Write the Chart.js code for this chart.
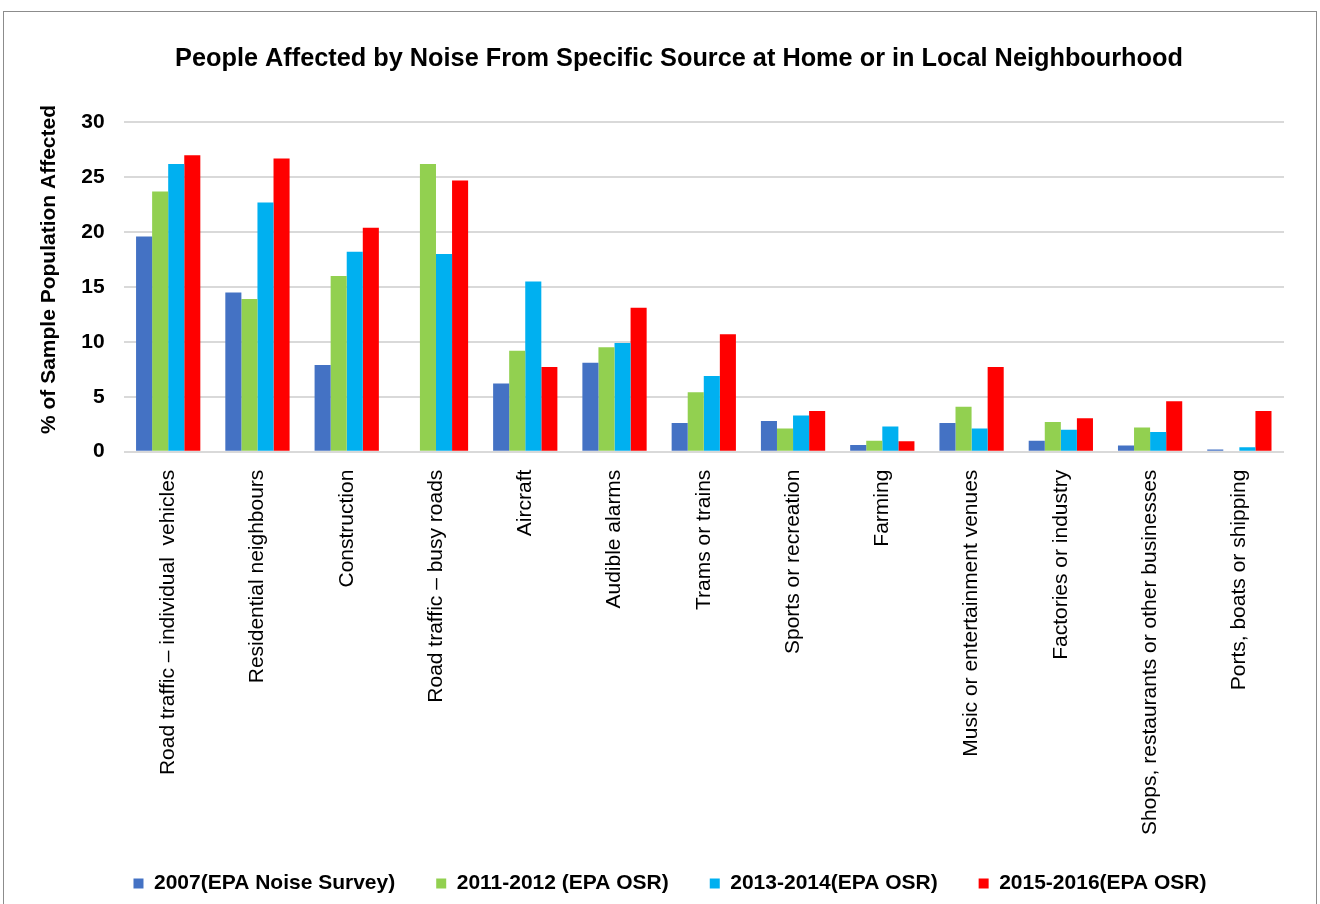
<!DOCTYPE html>
<html>
<head>
<meta charset="utf-8">
<script src="https://cdn.jsdelivr.net/npm/chart.js@4/dist/chart.umd.min.js"></script>
<style>
  html, body { margin: 0; padding: 0; background: #fff; }
  #frame { position: absolute; left: 3px; top: 11px; width: 1314px; height: 900px; border: 1px solid #8c8c8c; border-bottom: none; box-sizing: border-box; }
  #wrap { position: absolute; left: 0; top: 0; width: 1320px; height: 904px; }
</style>
</head>
<body>
<div id="frame"></div>
<div id="wrap"><canvas id="c" width="1320" height="904"></canvas></div>
<script>
const categories = [
  "Road traffic \u2013 individual  vehicles",
  "Residential neighbours",
  "Construction",
  "Road traffic \u2013 busy roads",
  "Aircraft",
  "Audible alarms",
  "Trams or trains",
  "Sports or recreation",
  "Farming",
  "Music or entertainment venues",
  "Factories or industry",
  "Shops, restaurants or other businesses",
  "Ports, boats or shipping"
];
const seriesNames = ["2007(EPA Noise Survey)", "2011-2012 (EPA OSR)", "2013-2014(EPA OSR)", "2015-2016(EPA OSR)"];
const s2007 = [19.6, 14.5, 7.9, null, 6.2, 8.1, 2.6, 2.8, 0.6, 2.6, 1.0, 0.55, 0.2];
const s2011 = [23.7, 13.9, 16.0, 26.2, 9.2, 9.5, 5.4, 2.1, 1.0, 4.1, 2.7, 2.2, null];
const s2013 = [26.2, 22.7, 18.2, 18.0, 15.5, 9.9, 6.9, 3.3, 2.3, 2.1, 2.0, 1.8, 0.4];
const s2015 = [27.0, 26.7, 20.4, 24.7, 7.7, 13.1, 10.7, 3.7, 0.95, 7.7, 3.05, 4.6, 3.7];
const yTicks = [0, 5, 10, 15, 20, 25, 30];
const colors = ["#4472C4", "#92D050", "#00B0F0", "#FF0000"];

const FONT = "'Liberation Sans', Arial, sans-serif";
const allSeries = [s2007, s2011, s2013, s2015];
const X_OVERLAP = 13;

// nudge title and legend horizontally to match the original's off-centre placement,
// and let the category labels extend into the space above the legend
const shiftBlocks = {
  id: 'shiftBlocks',
  afterLayout(chart) {
    if (chart.titleBlock) { chart.titleBlock.left += 21; chart.titleBlock.right += 21; }
    if (chart.legend) { chart.legend.left += 12; chart.legend.right += 12; }
    if (chart.scales.x) { chart.scales.x.bottom += X_OVERLAP; }
  }
};

new Chart(document.getElementById('c'), {
  type: 'bar',
  data: {
    labels: categories,
    datasets: allSeries.map((d, i) => ({
      label: seriesNames[i],
      data: d,
      backgroundColor: colors[i],
      borderWidth: 0,
      categoryPercentage: 0.72,
      barPercentage: 1.0
    }))
  },
  plugins: [shiftBlocks],
  options: {
    responsive: false,
    animation: false,
    layout: { padding: { left: 32, right: 36, top: 44, bottom: 0 } },
    plugins: {
      title: {
        display: true,
        text: "People Affected by Noise From Specific Source at Home or in Local Neighbourhood",
        color: '#000',
        font: { family: FONT, size: 25.3, weight: 'bold' },
        padding: { top: 0, bottom: 48 }
      },
      legend: {
        position: 'bottom',
        labels: {
          color: '#000',
          font: { family: FONT, size: 21, weight: 'bold' },
          boxWidth: 10,
          boxHeight: 10,
          padding: 41
        }
      },
      tooltip: { enabled: false }
    },
    scales: {
      x: {
        grid: { display: false },
        border: { display: false },
        afterFit: (scale) => { scale.height -= X_OVERLAP; },
        ticks: {
          color: '#000',
          font: { family: FONT, size: 21 },
          maxRotation: 90,
          minRotation: 90,
          padding: 10,
          autoSkip: false
        }
      },
      y: {
        min: 0,
        max: 30,
        afterBuildTicks: (axis) => { axis.ticks = yTicks.map(v => ({ value: v })); },
        grid: { color: '#d9d9d9', lineWidth: 2, drawTicks: false },
        border: { display: false },
        ticks: {
          color: '#000',
          font: { family: FONT, size: 21, weight: 'bold' },
          padding: 19
        },
        title: {
          display: true,
          text: "      % of Sample Population Affected",
          color: '#000',
          font: { family: FONT, size: 21, weight: 'bold' },
          padding: { top: 5, bottom: 0 }
        }
      }
    }
  }
});
</script>
</body>
</html>
